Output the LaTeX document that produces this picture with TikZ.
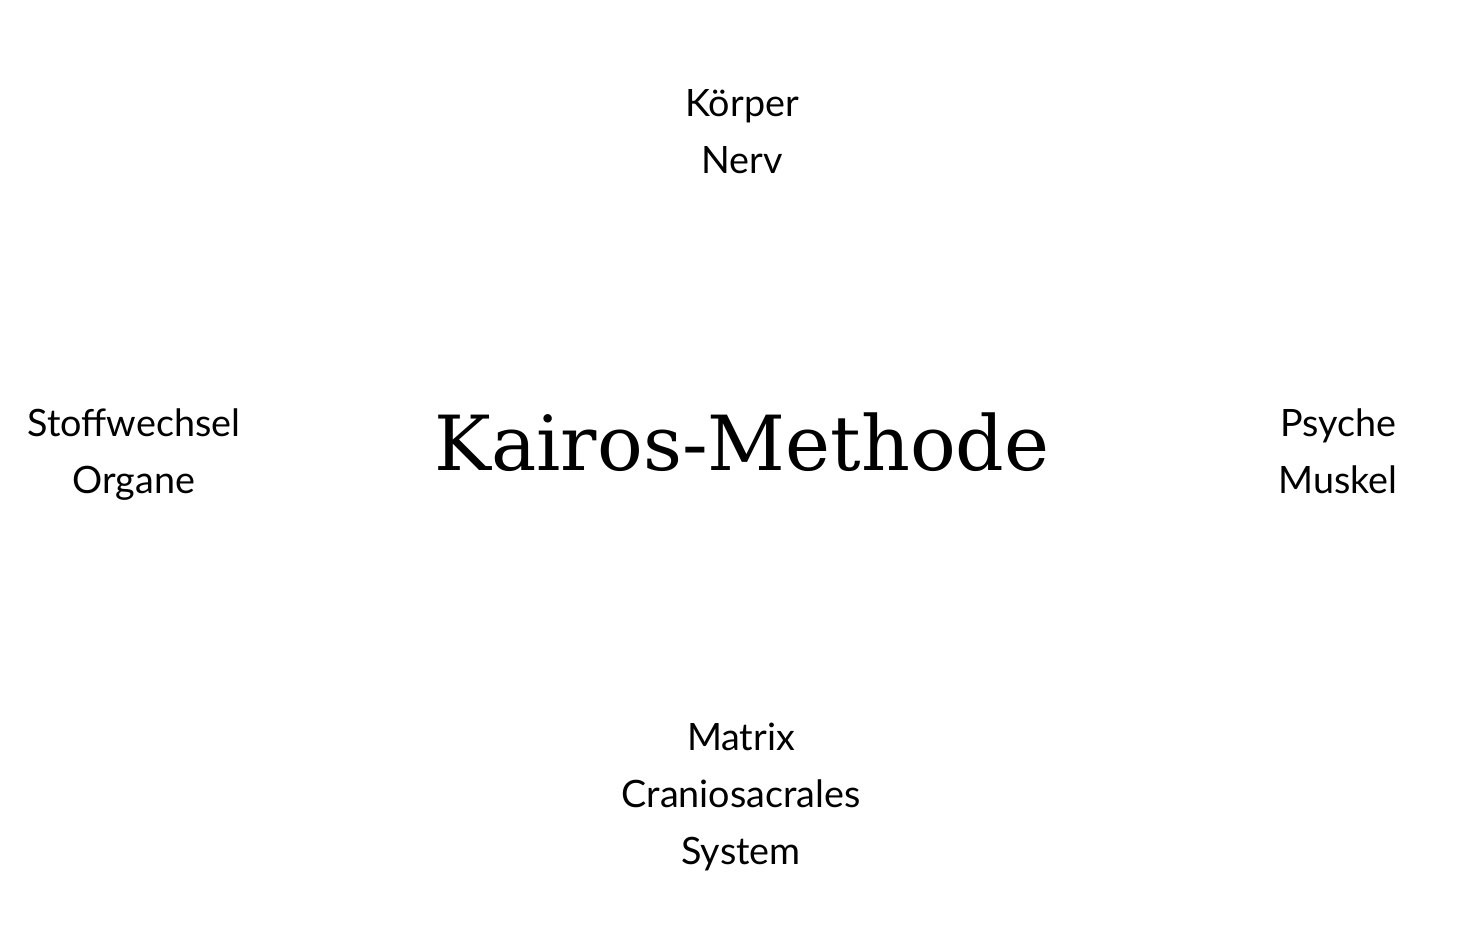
\documentclass[tikz,border=0pt]{standalone}
\usepackage{fontspec}
\setmainfont{Lato}
\newfontfamily\titlefont{DejaVu Serif}
\begin{document}
\begin{tikzpicture}[x=1pt, y=1pt,
    aspect/.style={inner sep=0pt, anchor=base, align=center, font=\fontsize{37.7}{57}\selectfont},
    title/.style={inner sep=0pt, anchor=base, font=\titlefont\fontsize{76}{80}\selectfont}]
    \useasboundingbox[fill=white] (0,0) rectangle (1472,942);
    \node[title] (kairos) at (742,471) {Kairos-Methode};
    \node[aspect] (koerper) at (742,768) {Körper\\Nerv};
    \node[aspect] (stoffwechsel) at (134,448) {Stoffwechsel\\Organe};
    \node[aspect] (psyche) at (1338,448) {Psyche\\Muskel};
    \node[aspect] (matrix) at (741,77) {Matrix\\Craniosacrales\\System};
\end{tikzpicture}
\end{document}
